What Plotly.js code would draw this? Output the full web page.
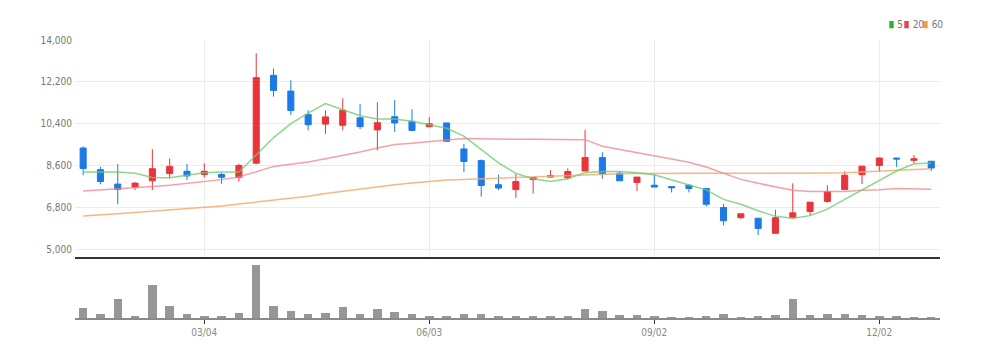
<!DOCTYPE html>
<html>
<head>
<meta charset="utf-8">
<script src="https://cdn.plot.ly/plotly-3.0.1.min.js"></script>
<style>
  html, body { margin: 0; padding: 0; background: #ffffff; }
  #chart { width: 987px; height: 357px; }
  #chart text { font-stretch: condensed; }
</style>
</head>
<body>
<div id="chart"></div>
<script>
// Weekly candles (2024)
const dates = [
  '2024-01-15','2024-01-22','2024-01-29','2024-02-05','2024-02-12','2024-02-19','2024-02-26',
  '2024-03-04','2024-03-11','2024-03-18','2024-03-25','2024-04-01','2024-04-08','2024-04-15',
  '2024-04-22','2024-04-29','2024-05-06','2024-05-13','2024-05-20','2024-05-27','2024-06-03',
  '2024-06-10','2024-06-17','2024-06-24','2024-07-01','2024-07-08','2024-07-15','2024-07-22',
  '2024-07-29','2024-08-05','2024-08-12','2024-08-19','2024-08-26','2024-09-02','2024-09-09',
  '2024-09-16','2024-09-23','2024-09-30','2024-10-07','2024-10-14','2024-10-21','2024-10-28',
  '2024-11-04','2024-11-11','2024-11-18','2024-11-25','2024-12-02','2024-12-09','2024-12-16',
  '2024-12-23'
];
const openP  = [9350,8420,7800,7670,7940,8250,8350,8210,8210,8090,8700,12480,11800,10790,10380,10330,10650,10130,10700,10500,10270,10430,9310,8810,7770,7560,7990,8100,8070,8360,8940,8270,7870,7750,7690,7750,7610,6790,6350,6330,5680,6350,6620,7050,7570,8200,8600,8920,8820,8780];
const highP  = [9420,8540,8660,7880,9300,8900,8670,8690,8290,8670,13430,12770,12270,10970,10970,11490,11250,11320,11420,11020,10680,10430,9530,8860,8200,8230,8090,8400,8470,10140,9170,8340,8100,8210,7690,7790,7610,6950,6520,6330,6690,7830,7020,7750,8350,8570,8950,8920,9050,8780];
const lowP   = [8180,7790,6930,7550,7550,8040,7970,8080,7810,7900,8660,11560,10780,10110,9960,10110,10170,9250,10040,10070,10240,9630,8310,7260,7540,7200,7390,8100,7990,8360,8030,7940,7500,7670,7440,7440,6830,6020,6300,5600,5680,6350,6440,7000,7570,7800,8320,8540,8700,8360];
const closeP = [8470,7910,7570,7840,8460,8560,8150,8350,8090,8600,12380,11830,10970,10350,10690,10980,10270,10440,10430,10110,10390,9640,8770,7740,7630,7910,8080,8160,8340,8940,8230,7940,8100,7670,7640,7610,6930,6220,6520,5890,6350,6560,7020,7470,8180,8570,8920,8880,8890,8490];
const volume = [300000,111000,570000,69000,999000,369000,120000,60000,60000,150000,1590000,351000,210000,120000,150000,330000,111000,261000,180000,111000,60000,60000,120000,111000,60000,51000,60000,60000,60000,270000,219000,81000,81000,69000,21000,21000,60000,111000,21000,60000,81000,561000,81000,120000,120000,81000,51000,60000,21000,21000];
const ma5  = [8320,8320,8320,8260,8080,8070,8180,8290,8320,8320,9050,9800,10400,10850,11260,10990,10740,10600,10600,10500,10360,10200,9860,9290,8710,8260,8030,7910,8030,8290,8340,8340,8290,8200,7970,7760,7550,7140,6930,6650,6410,6330,6440,6720,7140,7550,7970,8360,8670,8710];
const ma20 = [7500,7540,7580,7630,7690,7750,7820,7900,7990,8100,8330,8560,8650,8750,8890,9030,9180,9350,9500,9560,9640,9700,9760,9740,9730,9730,9730,9730,9720,9710,9430,9290,9170,9010,8880,8740,8530,8250,8000,7830,7690,7530,7480,7480,7480,7530,7550,7610,7610,7580];
const ma60 = [6420,6460,6520,6580,6630,6700,6750,6800,6860,6940,7020,7100,7160,7270,7390,7490,7590,7690,7770,7840,7910,7970,8000,8030,8060,8090,8110,8140,8170,8200,8230,8240,8250,8260,8260,8260,8260,8260,8260,8250,8250,8260,8270,8280,8290,8320,8360,8400,8440,8460];
const priceTicks = [5000,6800,8600,10400,12200,14000];
const xTickDates = ['2024-03-04','2024-06-03','2024-09-02','2024-12-02'];
const xTickText  = ['03/04','06/03','09/02','12/02'];
const legendNames = ['5','20','60'];

const UP = '#e8353b', DOWN = '#1b7ae6';
const xRange = ['2024-01-11 17:00', '2024-12-26 13:00'];
const fontFam = '"Liberation Sans Narrow", "DejaVu Sans", sans-serif';

const traces = [
  {
    type: 'bar', x: dates, y: volume, xaxis: 'x2', yaxis: 'y2',
    width: 3.4 * 86400000,
    marker: { color: '#979797', line: { width: 0 } },
    hoverinfo: 'skip', showlegend: false
  },
  {
    type: 'scatter', mode: 'lines', x: dates, y: ma60, xaxis: 'x', yaxis: 'y',
    line: { color: 'rgba(246,170,110,0.85)', width: 1.5 }, hoverinfo: 'skip', showlegend: false
  },
  {
    type: 'scatter', mode: 'lines', x: dates, y: ma20, xaxis: 'x', yaxis: 'y',
    line: { color: 'rgba(240,130,135,0.75)', width: 1.5 }, hoverinfo: 'skip', showlegend: false
  },
  {
    type: 'scatter', mode: 'lines', x: dates, y: ma5, xaxis: 'x', yaxis: 'y',
    line: { color: 'rgba(110,205,110,0.8)', width: 1.5 }, hoverinfo: 'skip', showlegend: false
  },
  {
    type: 'candlestick', x: dates, open: openP, high: highP, low: lowP, close: closeP,
    xaxis: 'x', yaxis: 'y', whiskerwidth: 0,
    increasing: { line: { color: UP, width: 1 }, fillcolor: UP },
    decreasing: { line: { color: DOWN, width: 1 }, fillcolor: DOWN },
    showlegend: false
  }
];

const H = 357, mt = 40, mb = 39;
const ph = H - mt - mb;
const legColors = ['#2db42d', '#e8434a', '#f3a03c'];
const legSq = [[889.3, 893.7], [904.3, 908.7], [923.3, 927.7]];
const legTx = [895, 910, 929];
const L = 75, R = 940, pw = R - L;
const px = v => (v - L) / pw;
const py = v => (H - mb - v) / ph;

const shapes = legSq.map((s, i) => ({
  type: 'rect', xref: 'paper', yref: 'paper',
  x0: px(s[0]), x1: px(s[1]), y0: py(28.3), y1: py(21),
  fillcolor: legColors[i], line: { width: 0 }
}));
const annotations = legendNames.map((n, i) => ({
  xref: 'paper', yref: 'paper', x: px(legTx[i]), y: py(24.7),
  xanchor: 'left', yanchor: 'middle', showarrow: false, text: n,
  font: { family: fontFam, size: 10, color: '#777' }
}));

const layout = {
  width: 987, height: 357,
  margin: { l: L, r: 987 - R, t: mt, b: mb, pad: 0 },
  paper_bgcolor: '#ffffff', plot_bgcolor: '#ffffff',
  showlegend: false, boxgap: 0.5, bargap: 0,
  font: { family: fontFam, color: '#777' },
  xaxis: {
    type: 'date', range: xRange, anchor: 'y', domain: [0, 1],
    rangeslider: { visible: false },
    tickvals: xTickDates, showticklabels: false, ticks: '',
    showgrid: true, gridcolor: '#ededed', gridwidth: 1,
    showline: true, linecolor: '#333333', linewidth: 2, zeroline: false
  },
  yaxis: {
    domain: [(H - mb - 257) / ph, 1], range: [4660, 14000],
    tickvals: priceTicks, tickformat: ',d', ticks: '',
    ticklabelstandoff: 2,
    showgrid: true, gridcolor: '#ececec', gridwidth: 1,
    zeroline: false, showline: false,
    tickfont: { family: fontFam, size: 10, color: '#777' }
  },
  xaxis2: {
    type: 'date', range: xRange, anchor: 'y2', domain: [0, 1],
    tickvals: xTickDates, ticktext: xTickText,
    ticks: 'outside', ticklen: 4, tickwidth: 1.5, tickcolor: '#333',
    showgrid: false, showline: true, linecolor: '#8a8a8a', linewidth: 2, zeroline: false,
    tickfont: { family: fontFam, size: 10, color: '#888' }
  },
  yaxis2: {
    domain: [0, 56 / ph], range: [0, 1680000],
    showticklabels: false, showgrid: false, zeroline: false, showline: false, ticks: ''
  },
  shapes: shapes,
  annotations: annotations
};

Plotly.newPlot('chart', traces, layout, { displayModeBar: false, staticPlot: true });
</script>
</body>
</html>
